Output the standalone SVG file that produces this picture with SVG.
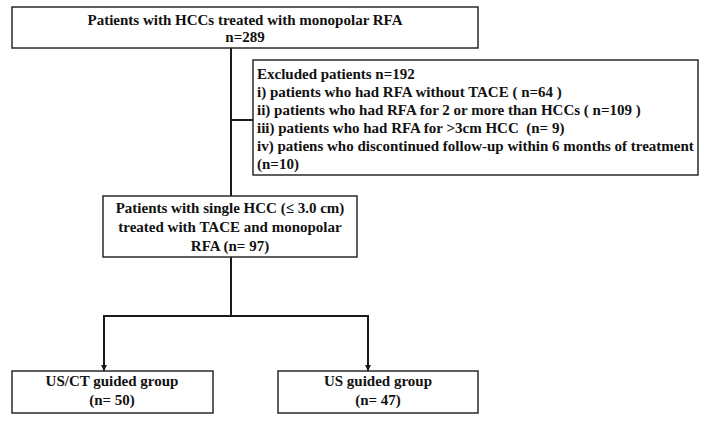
<svg xmlns="http://www.w3.org/2000/svg" width="708" height="431" viewBox="0 0 708 431">
<style>
.box{fill:#fff;stroke:#2a2a2a;stroke-width:1.5}
.t{font-family:"Liberation Serif","Times New Roman",serif;font-weight:bold;font-size:15px;fill:#111}
.c{text-anchor:middle}
.ln{fill:none;stroke:#1a1a1a;stroke-width:2}
</style>
<defs>
<marker id="ah" viewBox="0 0 10 10" refX="10" refY="5" markerWidth="3" markerHeight="3" orient="auto" markerUnits="strokeWidth">
<path d="M0,0 L10,5 L0,10 z" fill="#1a1a1a"/>
</marker>
</defs>
<rect width="708" height="431" fill="#fff"/>
<g id="connectors">
<path class="ln" d="M231,48 V196"/>
<path class="ln" d="M231,120 H253"/>
<path class="ln" d="M231,257 V316"/>
<path class="ln" d="M104,316 H368"/>
<path class="ln" d="M104,315 V371" marker-end="url(#ah)"/>
<path class="ln" d="M368,315 V371" marker-end="url(#ah)"/>
</g>
<g id="node-total">
<rect class="box" x="12" y="7" width="466" height="41"/>
<text class="t c" x="245" y="25">Patients with HCCs treated with monopolar RFA</text>
<text class="t c" x="245" y="42">n=289</text>
</g>
<g id="node-excluded">
<rect class="box" x="253" y="60" width="445" height="115"/>
<text class="t" x="257" y="79">Excluded patients n=192</text>
<text class="t" x="257" y="97">i) patients who had RFA without TACE ( n=64 )</text>
<text class="t" x="257" y="115">ii) patients who had RFA for 2 or more than HCCs ( n=109 )</text>
<text class="t" x="257" y="133" xml:space="preserve">iii) patients who had RFA for &gt;3cm HCC  (n= 9)</text>
<text class="t" x="257" y="151">iv) patiens who discontinued follow-up within 6 months of treatment</text>
<text class="t" x="257" y="169">(n=10)</text>
</g>
<g id="node-single">
<rect class="box" x="103" y="196" width="254" height="61"/>
<text class="t c" x="230" y="213">Patients with single HCC (≤ 3.0 cm)</text>
<text class="t c" x="230" y="232">treated with TACE and monopolar</text>
<text class="t c" x="230" y="251">RFA (n= 97)</text>
</g>
<g id="node-usct">
<rect class="box" x="12" y="371" width="201" height="42"/>
<text class="t c" x="112" y="386">US/CT guided group</text>
<text class="t c" x="112" y="405">(n= 50)</text>
</g>
<g id="node-us">
<rect class="box" x="278" y="371" width="200" height="42"/>
<text class="t c" x="378" y="386">US guided group</text>
<text class="t c" x="378" y="405">(n= 47)</text>
</g>
</svg>
